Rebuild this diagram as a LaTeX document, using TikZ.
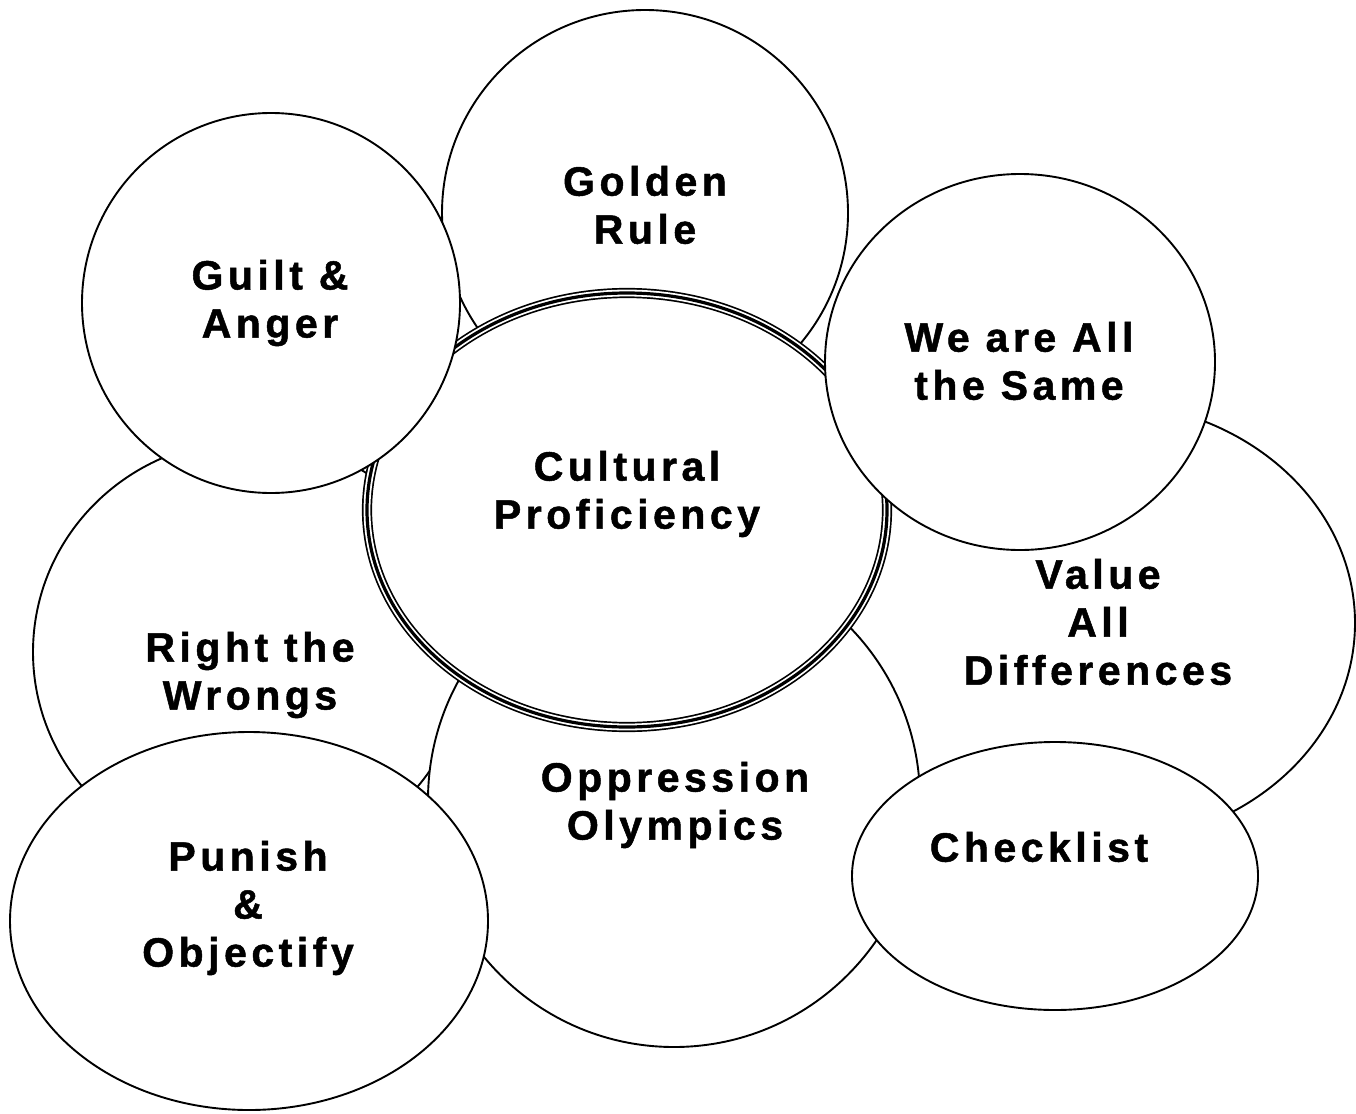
\documentclass[tikz,border=0pt]{standalone}
\usepackage{fontspec}
\newfontfamily\lblfont[LetterSpace=11, FakeBold=1.2]{Liberation Sans}
\usetikzlibrary{shapes.geometric}
\begin{document}
\begin{tikzpicture}[x=1pt,y=-1pt,
  blob/.style={ellipse, draw, fill=white, line width=1.9pt, inner sep=0pt, outer sep=0pt},
  cpbox/.style={ellipse, draw, fill=white, line width=1.7pt, double, double distance=6.8pt,
    inner sep=0pt, outer sep=0pt, minimum width=520pt, minimum height=434pt},
  lbl/.style={align=center, font=\lblfont\bfseries\fontsize{41}{48}\selectfont, inner sep=0pt}]
\useasboundingbox (0,0) rectangle (1356,1113);
% circles, from the back to the front
\node[blob, minimum width=406pt, minimum height=406pt] (gr) at (645,213) {};
\node[blob, minimum width=510pt, minimum height=442pt] (val) at (1100,623) {};
\node[blob, minimum width=434pt, minimum height=424pt] (rtw) at (250,652) {};
\node[blob, minimum width=492pt, minimum height=494pt] (opp) at (674,800) {};
\node[cpbox] (cp) at (627,510) {};
\draw[line width=3.2pt] (cp.center) ellipse [x radius=260pt, y radius=217pt];
\node[blob, minimum width=378pt, minimum height=380pt] (ga) at (271,303) {};
\node[blob, minimum width=390pt, minimum height=376pt] (was) at (1020,362) {};
\node[blob, minimum width=478pt, minimum height=378pt] (pun) at (249,921) {};
\node[blob, minimum width=406pt, minimum height=268pt] (chk) at (1055,876) {};
% labels
\node[lbl] (grl) at (645,205) {Golden\\Rule};
\node[lbl] (gal) at (270,303) {Guilt \&\\Anger};
\node[lbl] (wasl) at (1019,361) {We are All\\the Same};
\node[lbl] (cpl) at (627,494) {Cultural\\Proficiency};
\node[lbl] (vall) at (1098,622) {Value\\All\\Differences};
\node[lbl] (rtwl) at (250,675) {Right the\\Wrongs};
\node[lbl] (oppl) at (675,805) {Oppression\\Olympics};
\node[lbl] (chkl) at (1039,847) {Checklist};
\node[lbl] (punl) at (248,908) {Punish\\\&\\Objectify};
\end{tikzpicture}
\end{document}
